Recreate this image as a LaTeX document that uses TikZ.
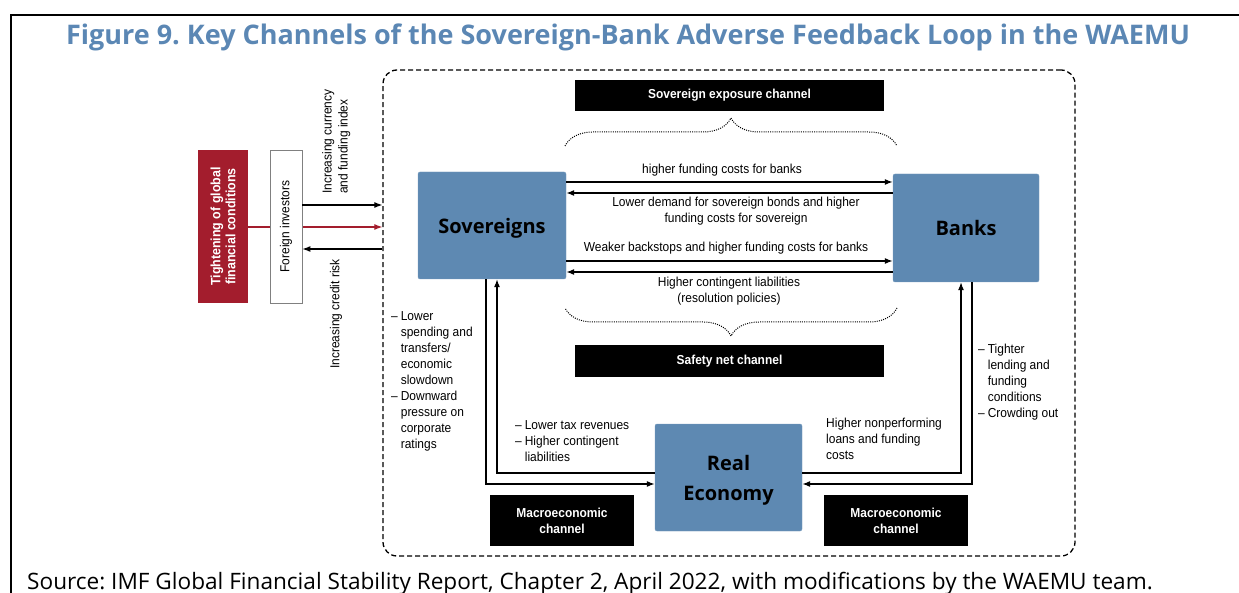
\documentclass[tikz,border=0pt]{standalone}
\usepackage{fontspec}
\setmainfont{Open Sans}
\newfontfamily\cond[FakeStretch=0.92]{Liberation Sans}
\usetikzlibrary{arrows.meta,decorations.pathreplacing}
\definecolor{tblue}{RGB}{91,135,180}
\definecolor{boxblue}{RGB}{94,137,178}
\definecolor{dred}{RGB}{163,29,45}
\newcommand{\nodepth}[1]{\raisebox{0pt}[\height][0pt]{#1}}
\frenchspacing
\begin{document}
\begin{tikzpicture}[x=1pt,y=-1pt,
 lbl/.style={font=\cond\fontsize{13}{16}\selectfont, inner sep=0, align=center},
 blk/.style={fill=black, text=white, font=\cond\bfseries\fontsize{13}{16}\selectfont, inner sep=0, align=center},
 actor/.style={fill=boxblue, draw=boxblue!85!white, rounded corners=2pt, font=\bfseries\fontsize{20}{30}\selectfont, inner sep=0, align=center},
 arr/.style={line width=1.2pt, -{Latex[length=8pt,width=6pt]}},
 brc/.style={dash pattern=on 1pt off 1.2pt, line width=1pt, decorate, decoration={brace, amplitude=28pt}}]
\useasboundingbox (0,0) rectangle (1239,593);
% outer frame
\draw[line width=1.5pt] (11,593) -- (11,15) -- (1239,15);
% title and source
\node[font=\bfseries\fontsize{27}{30}\selectfont, text=tblue, inner sep=0] (title) at (628,37) {Figure 9. Key Channels of the Sovereign-Bank Adverse Feedback Loop in the WAEMU};
\node[font=\fontsize{22.6}{25}\selectfont, anchor=base west, inner sep=0] (src) at (27,589) {Source: IMF Global Financial Stability Report, Chapter 2, April 2022, with modifications by the WAEMU team.};
% dashed frame
\node[draw, dash pattern=on 5pt off 3pt, line width=1.3pt, rounded corners=14pt, minimum width=692pt, minimum height=486pt, inner sep=0] (frame) at (729,313) {};
% left boxes
\node[rotate=90, fill=dred, text=white, minimum width=153pt, minimum height=50pt, inner sep=0, align=center, font=\cond\bfseries\fontsize{13.5}{15}\selectfont] (tight) at (223,226.5) {Tightening of global\\financial conditions};
\draw[arr, dred] (tight.south |- 0,227) -- (frame.west |- 0,227);
\node[rotate=90, draw=gray, fill=white, line width=0.8pt, minimum width=153pt, minimum height=32pt, lbl] (fi) at (286,226.5) {Foreign investors};
\draw[arr] (fi.south |- 0,205) -- (frame.west |- 0,205);
\draw[arr] (frame.west |- 0,249) -- (fi.south |- 0,249);
\node[lbl, rotate=90, anchor=north west, align=left] (lcur) at (322,194) {Increasing currency\\and funding index};
\node[lbl, rotate=90] (lcred) at (336,314) {Increasing credit risk};
% channel boxes
\node[blk, minimum width=309pt, minimum height=31pt] (sec) at (729.5,95.5) {Sovereign exposure channel};
\node[blk, minimum width=309pt, minimum height=32pt] (snc) at (729.5,361) {Safety net channel};
\node[blk, minimum width=144pt, minimum height=51pt] (mc1) at (562,520.5) {Macroeconomic\\channel};
\node[blk, minimum width=144pt, minimum height=51pt] (mc2) at (896,520.5) {Macroeconomic\\channel};
% actors
\node[actor, minimum width=148pt, minimum height=107pt] (sov) at (492,225.5) {\nodepth{Sovereigns}};
\node[actor, minimum width=146pt, minimum height=108pt] (banks) at (966,228) {Banks};
\node[actor, minimum width=147pt, minimum height=107pt] (real) at (728.5,477.5) {Real\\\nodepth{Economy}};
% braces
\draw[brc] (565,146) -- (897,146);
\draw[brc] (897,308) -- (565,308);
% sovereign-bank arrows
\draw[arr] (sov.east |- 0,182) -- (banks.west |- 0,182);
\draw[arr] (banks.west |- 0,193) -- (sov.east |- 0,193);
\draw[arr] (sov.east |- 0,261) -- (banks.west |- 0,261);
\draw[arr] (banks.west |- 0,272) -- (sov.east |- 0,272);
\node[lbl] (t1) at (722,170) {higher funding costs for banks};
\node[lbl] (t2) at (736,211.5) {Lower demand for sovereign bonds and higher\\funding costs for sovereign};
\node[lbl] (t3) at (726,248) {Weaker backstops and higher funding costs for banks};
\node[lbl] (t4) at (729,291) {Higher contingent liabilities\\(resolution policies)};
% macro loops
\draw[arr] (sov.south -| 486,0) |- (real.west |- 0,484);
\draw[arr] (real.west |- 0,473) -| (sov.south -| 497,0);
\draw[arr] (banks.south -| 972,0) |- (real.east |- 0,484);
\draw[arr] (real.east |- 0,473) -| (banks.south -| 961,0);
% loop labels
\node[lbl, anchor=north west, align=left] (ll) at (391,309) {\begin{tabular}{@{}l@{\hspace{3pt}}l@{}}
– & Lower\\ & spending and\\ & transfers/\\ & economic\\ & slowdown\\
– & Downward\\ & pressure on\\ & corporate\\ & ratings\end{tabular}};
\node[lbl, anchor=north west, align=left] (lm) at (515,418) {\begin{tabular}{@{}l@{\hspace{3pt}}l@{}}
– & Lower tax revenues\\– & Higher contingent\\ & liabilities\end{tabular}};
\node[lbl, anchor=north west, align=left] (rm) at (826,418) {Higher nonperforming\\loans and funding\\costs};
\node[lbl, anchor=north west, align=left] (rl) at (978,342) {\begin{tabular}{@{}l@{\hspace{3pt}}l@{}}
– & Tighter\\ & lending and\\ & funding\\ & conditions\\– & Crowding out\end{tabular}};
\end{tikzpicture}
\end{document}
